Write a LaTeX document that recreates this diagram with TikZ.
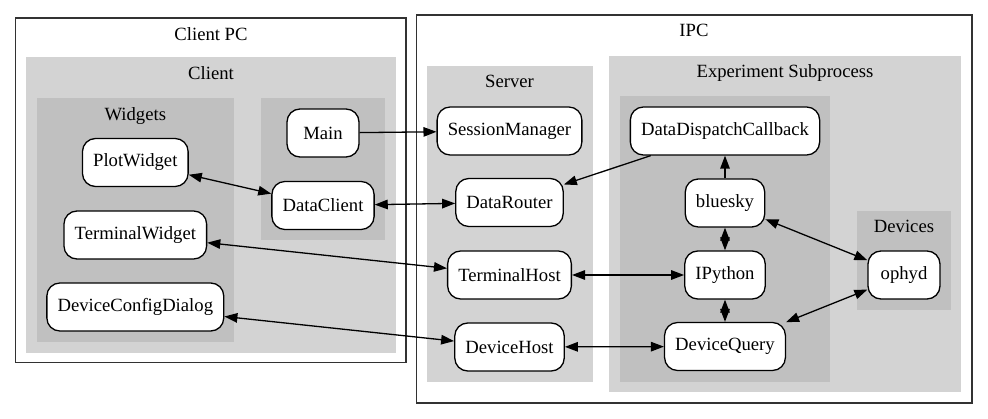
\documentclass[tikz,border=0pt]{standalone}
\usepackage{fontspec}
\setmainfont{Liberation Serif}
\usepackage{tikz}
\usetikzlibrary{arrows.meta, positioning}
\definecolor{clustercolor}{RGB}{211, 211, 211}
\definecolor{innercolor}{RGB}{192, 192, 192}
\definecolor{framecolor}{RGB}{50, 50, 50}

\begin{document}
\begin{tikzpicture}[
    x=1pt, y=-1pt,
    proc/.style={draw, fill=white, rounded corners=13pt, minimum height=48pt, minimum width=72pt, inner xsep=10.67pt, line width=1.3pt, font=\fontsize{18.67}{22}\selectfont},
    boxlabel/.style={font=\fontsize{18.67}{22}\selectfont, inner sep=0pt, anchor=base},
    frame/.style={draw=framecolor, fill=white, line width=1.3pt},
    outerbox/.style={fill=clustercolor},
    innerbox/.style={fill=innercolor},
    link/.style={line width=1.3pt, -{Triangle[length=13pt, width=9.5pt]}},
    duplex/.style={line width=1.3pt, {Triangle[length=13pt, width=9.5pt]}-{Triangle[length=13pt, width=9.5pt]}}
]
    \useasboundingbox (0, 0) rectangle (988, 419);

    % Client PC
    \draw[frame] (15.7, 18) rectangle (406, 362.7);
    \node[boxlabel] (lclientpc) at (211, 40.5) {Client PC};
    \fill[outerbox] (26, 57.5) rectangle (395.7, 352.7);
    \node[boxlabel] (lclient) at (211, 80) {Client};
    \fill[innerbox] (36.7, 98) rectangle (234, 341.7);
    \node[boxlabel] (lwidgets) at (135.3, 120.5) {Widgets};
    \fill[innerbox] (261, 98) rectangle (385, 240);

    % IPC
    \draw[frame] (416.5, 15) rectangle (972, 403);
    \node[boxlabel] (lipc) at (694, 37) {IPC};
    \fill[outerbox] (426.5, 66) rectangle (592.5, 382);
    \node[boxlabel] (lserver) at (509.5, 88) {Server};
    \fill[outerbox] (609, 56) rectangle (961.3, 392.5);
    \node[boxlabel] (lexp) at (785, 77.5) {Experiment Subprocess};
    \fill[innerbox] (619.7, 96) rectangle (830.3, 382);
    \fill[innerbox] (857.3, 211) rectangle (950.7, 310);
    \node[boxlabel] (ldevices) at (904, 232.5) {Devices};

    % Client nodes
    \node[proc] (plot) at (135.3, 162.5) {PlotWidget};
    \node[proc] (term) at (135.3, 235) {TerminalWidget};
    \node[proc] (dialog) at (135.3, 307) {DeviceConfigDialog};
    \node[proc] (main) at (323, 133) {Main};
    \node[proc] (dclient) at (323, 205.5) {DataClient};

    % Server nodes
    \node[proc] (session) at (509.5, 131) {SessionManager};
    \node[proc] (router) at (509.5, 202.5) {DataRouter};
    \node[proc] (thost) at (509.5, 275) {TerminalHost};
    \node[proc] (dhost) at (509.5, 347) {DeviceHost};

    % Experiment nodes
    \node[proc] (dispatch) at (725, 131) {DataDispatchCallback};
    \node[proc] (bluesky) at (725, 203) {bluesky};
    \node[proc] (ipython) at (725, 275) {IPython};
    \node[proc] (query) at (725, 346.5) {DeviceQuery};
    \node[proc] (ophyd) at (904, 275) {ophyd};

    % Connections
    \draw[link] (main) -- (session);
    \draw[duplex] (plot) -- (dclient);
    \draw[duplex] (dclient) -- (router);
    \draw[duplex] (term) -- (thost);
    \draw[duplex] (dialog) -- (dhost);

    \draw[link] (dispatch) -- (router);
    \draw[link] (bluesky) -- (dispatch);
    \draw[duplex] (bluesky) -- (ipython);
    \draw[duplex] (ipython) -- (query);
    \draw[duplex] (thost) -- (ipython);
    \draw[duplex] (dhost) -- (query);
    \draw[duplex] (bluesky) -- (ophyd);
    \draw[duplex] (query) -- (ophyd);

\end{tikzpicture}
\end{document}
